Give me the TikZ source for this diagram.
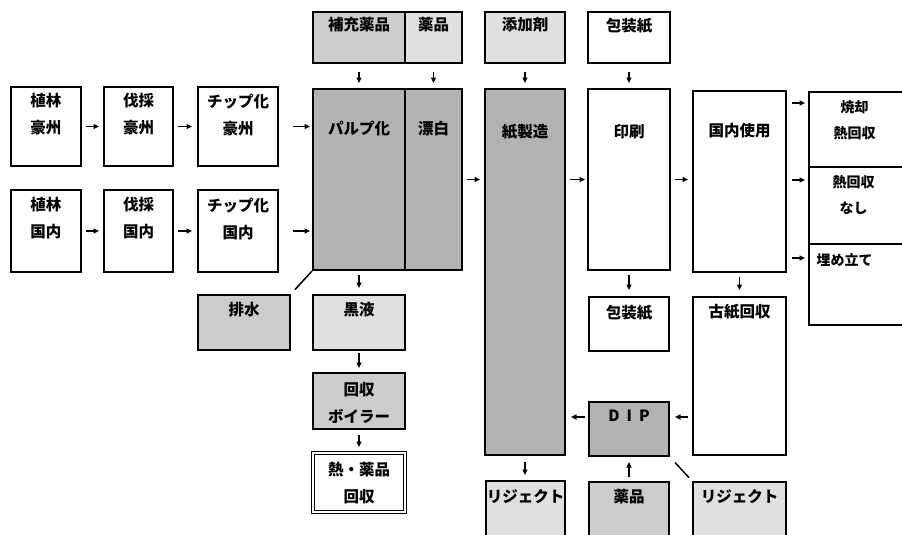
\documentclass[tikz,border=0pt]{standalone}
\usepackage{fontspec}
\setmainfont{Noto Sans CJK JP}
\usetikzlibrary{arrows.meta,calc}
\tikzset{
  box/.style={draw=black,line width=2.4pt,rectangle,inner sep=0pt,outer sep=0pt,fill=white},
  thinbox/.style={draw=black,line width=1.2pt,rectangle,inner sep=0pt,outer sep=0pt,fill=white},
  dense/.style={fill=black!30},
  mid/.style={fill=black!20},
  light/.style={fill=black!12},
  dbl/.style={double=white,double distance=1.6pt,line width=1.2pt},
  txt/.style={font=\fontsize{15.5}{27}\selectfont\bfseries,align=center,inner sep=0pt,anchor=north},
  stxt/.style={font=\fontsize{14}{26}\selectfont\bfseries,align=center,inner sep=0pt,anchor=north},
  arr/.style={-{Triangle[length=5.5pt,width=5pt]},line width=1.3pt},
  slash/.style={line width=1.5pt}
}
\newcommand{\mybox}[6]{\node[box,#6,anchor=north west,minimum width={(#4-#2)*1pt},minimum height={(#5-#3)*1pt}] (#1) at (#2,#3) {};}
\newcommand{\mytext}[5]{\node[txt,#5] (#1) at ([yshift=#3]#2.north) {#4};}
\begin{document}
\begin{tikzpicture}[x=1pt,y=-1pt]
\useasboundingbox (0,0) rectangle (902,535);
\clip (0,0) rectangle (902,535);
% boxes
\mybox{plA}{11}{87}{81}{166}{}
\mybox{cutA}{104}{87}{173}{166}{}
\mybox{chipA}{198}{87}{278}{166}{}
\mybox{plB}{11}{190}{81}{272}{}
\mybox{cutB}{104}{190}{173}{272}{}
\mybox{chipB}{198}{190}{278}{272}{}
\mybox{supp}{313}{12}{405}{63}{mid}
\mybox{chemA}{405}{12}{462}{63}{light}
\mybox{pulp}{313}{89}{405}{270}{dense}
\mybox{bleach}{405}{89}{462}{270}{dense}
\mybox{drain}{198}{295}{290}{350}{mid}
\mybox{black}{313}{295}{405}{350}{light}
\mybox{boiler}{313}{373}{405}{429}{mid}
\mybox{recov}{313}{453}{405}{512}{dbl}
\mybox{addit}{485}{12}{565}{63}{light}
\mybox{paper}{485}{89}{565}{455}{dense}
\mybox{wrapA}{588}{12}{670}{63}{}
\mybox{print}{588}{89}{670}{270}{}
\mybox{wrapB}{589}{297}{669}{351}{}
\mybox{dip}{589}{402}{669}{456}{dense}
\mybox{rejA}{486}{481}{565}{548}{light}
\mybox{chemB}{589}{482}{669}{548}{mid}
\mybox{rejB}{693}{482}{786}{548}{light}
\mybox{dom}{693}{91}{786}{272}{}
\mybox{waste}{693}{297}{786}{455}{}
\mybox{inc}{809}{92}{912}{167}{thinbox}
\mybox{noheat}{809}{167}{912}{244}{thinbox}
\mybox{land}{809}{244}{912}{325}{thinbox}
\draw[line width=2.4pt] (inc.north west) rectangle (land.south east);
% texts
\mytext{tplA}{plA}{-6.5pt}{植林\\豪州}{}
\mytext{tcutA}{cutA}{-6.5pt}{伐採\\豪州}{}
\mytext{tchipA}{chipA}{-6.5pt}{チップ化\\豪州}{}
\mytext{tplB}{plB}{-7.5pt}{植林\\国内}{}
\mytext{tcutB}{cutB}{-7.5pt}{伐採\\国内}{}
\mytext{tchipB}{chipB}{-7.5pt}{チップ化\\国内}{}
\mytext{tsupp}{supp}{-5.5pt}{補充薬品}{}
\mytext{tchemA}{chemA}{-5.5pt}{薬品}{}
\mytext{tpulp}{pulp}{-31.5pt}{パルプ化}{}
\mytext{tbleach}{bleach}{-31.5pt}{漂白}{}
\mytext{tdrain}{drain}{-7.5pt}{排水}{}
\mytext{tblack}{black}{-7.5pt}{黒液}{}
\mytext{tboiler}{boiler}{-9.5pt}{回収\\ボイラー}{}
\mytext{trecov}{recov}{-9.5pt}{熱・薬品\\回収}{}
\mytext{taddit}{addit}{-5.5pt}{添加剤}{}
\mytext{tpaper}{paper}{-35.5pt}{紙製造}{}
\mytext{twrapA}{wrapA}{-5.5pt}{包装紙}{}
\mytext{tprint}{print}{-35.5pt}{印刷}{}
\mytext{twrapB}{wrapB}{-7.5pt}{包装紙}{}
\mytext{tdom}{dom}{-31.5pt}{国内使用}{}
\mytext{twaste}{waste}{-7.5pt}{古紙回収}{}
\mytext{tdip}{dip}{-7.5pt}{D\hspace{7pt}I\hspace{7pt}P}{}
\mytext{trejA}{rejA}{-8.5pt}{リジェクト}{}
\mytext{tchemB}{chemB}{-7.5pt}{薬品}{}
\mytext{trejB}{rejB}{-7.5pt}{リジェクト}{}
\node[stxt] (tinc) at ([yshift=-8pt,xshift=-6pt]inc.north) {焼却\\熱回収};
\node[stxt] (tnoheat) at ([yshift=-8pt,xshift=-7pt]noheat.north) {熱回収\\なし};
\node[stxt] (tland) at ([yshift=-9pt,xshift=-16pt]land.north) {埋め立て};
% helper coordinates
\coordinate (r1) at (0,103);
\coordinate (r2) at (0,180);
\coordinate (r3) at (0,258);
\coordinate (a417) at (0,417);
% arrows
\draw[arr,shorten <=5pt,shorten >=5pt] (plA.east) -- (cutA.west);
\draw[arr,shorten <=5pt,shorten >=6pt] (cutA.east) -- (chipA.west);
\draw[arr,shorten <=15pt,shorten >=3pt] (chipA.east) -- (chipA.east -| pulp.west);
\draw[arr,shorten <=5pt,shorten >=5pt] (plB.east) -- (cutB.west);
\draw[arr,shorten <=5pt,shorten >=6pt] (cutB.east) -- (chipB.west);
\draw[arr,shorten <=15pt,shorten >=3pt] (chipB.east) -- (chipB.east -| pulp.west);
\draw[arr,shorten <=9pt,shorten >=6pt] (supp.south) -- (supp.south |- pulp.north);
\draw[arr,shorten <=9pt,shorten >=6pt] (chemA.south) -- (chemA.south |- bleach.north);
\draw[arr,shorten <=5pt,shorten >=5pt] (bleach.east) -- (bleach.east -| paper.west);
\draw[arr,shorten <=5pt,shorten >=3pt] (print.west -| paper.east) -- (print.west);
\draw[arr,shorten <=5pt,shorten >=5pt] (print.east) -- (print.east -| dom.west);
\draw[arr,shorten <=6pt,shorten >=4pt] (dom.east |- r1) -- (inc.west |- r1);
\draw[arr,shorten <=6pt,shorten >=4pt] (dom.east |- r2) -- (inc.west |- r2);
\draw[arr,shorten <=6pt,shorten >=4pt] (dom.east |- r3) -- (inc.west |- r3);
\draw[arr,shorten <=9pt,shorten >=6pt] (addit.south) -- (addit.south |- paper.north);
\draw[arr,shorten <=9pt,shorten >=6pt] (wrapA.south) -- (wrapA.south |- print.north);
\draw[arr,shorten <=5pt,shorten >=7pt] (pulp.south) -- (pulp.south |- black.north);
\draw[arr,shorten <=3pt,shorten >=5pt] (black.south) -- (boiler.north);
\draw[arr,shorten <=6pt,shorten >=6pt] (boiler.south) -- (recov.north);
\draw[arr,shorten <=5pt,shorten >=7pt] (print.south) -- (print.south |- wrapB.north);
\draw[arr,shorten <=5pt,shorten >=7pt] (dom.south) -- (dom.south |- waste.north);
\draw[arr,shorten <=7pt,shorten >=6pt] (paper.south) -- (paper.south |- rejA.north);
\draw[arr,shorten <=5pt,shorten >=6pt] (chemB.north) -- (chemB.north |- dip.south);
\draw[arr,shorten <=5pt,shorten >=6pt] (waste.west |- a417) -- (dip.east |- a417);
\draw[arr,shorten <=4pt,shorten >=6pt] (dip.west |- a417) -- (paper.east |- a417);
% slashes
\draw[slash,shorten <=7.4pt,shorten >=1.5pt] (drain.north east) -- (pulp.south west);
\draw[slash,shorten <=8.8pt,shorten >=5.9pt] (dip.south east) -- (rejB.north west);
\end{tikzpicture}
\end{document}
